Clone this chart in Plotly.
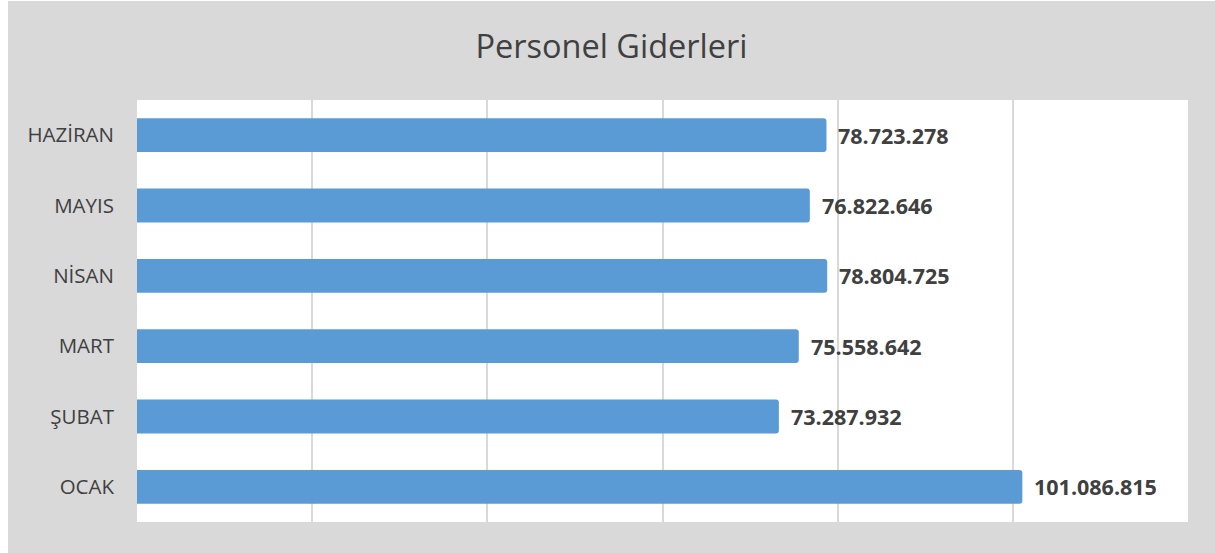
import plotly.graph_objects as go

categories = ["OCAK", "ŞUBAT", "MART", "NİSAN", "MAYIS", "HAZİRAN"]
values = [101086815, 73287932, 75558642, 78804725, 76822646, 78723278]
labels = ["101.086.815", "73.287.932", "75.558.642", "78.804.725", "76.822.646", "78.723.278"]

# page offset of figure (white strip on left/top as in reference)
OX, OY = 8, 1
W, H = 1215 - OX, 553 - OY
L, R, T, B = 137 - OX, 1215 - 1188, 100 - OY, 553 - 522

fig = go.Figure()
fig.add_trace(go.Bar(
    y=categories, x=values, orientation="h",
    marker=dict(color="#5b9bd5", line=dict(width=0), cornerradius=3),
    hoverinfo="skip",
))

for c, v, t in zip(categories, values, labels):
    fig.add_annotation(x=v, y=c, text="<b>%s</b>" % t, showarrow=False,
                       xanchor="left", yanchor="middle", xshift=10,
                       font=dict(family="Open Sans", size=21.5, color="#404040"))

fig.update_layout(
    width=W, height=H,
    margin=dict(l=L, r=R, t=T, b=B),
    paper_bgcolor="#d9d9d9",
    plot_bgcolor="white",
    bargap=0.52,
    showlegend=False,
    title=dict(text="Personel Giderleri", x=0.5, xref="container", xanchor="center",
               y=1 - (47 - OY) / H, yref="container", yanchor="middle",
               font=dict(family="Open Sans", size=32.5, color="#404040")),
    xaxis=dict(range=[0, 120000000], dtick=20000000, showticklabels=False,
               showgrid=True, gridcolor="#d9d9d9", gridwidth=1.5,
               zeroline=False, showline=False, ticks="", fixedrange=True),
    yaxis=dict(showgrid=False, zeroline=False, showline=False, ticks="",
               ticklabelstandoff=22,
               tickfont=dict(family="Open Sans", size=20.5, color="#404040")),
)

fig.write_html(
    "out.html",
    post_script="document.body.style.margin='%dpx 0 0 %dpx';document.body.style.overflow='hidden';document.documentElement.style.overflow='hidden';" % (OY, OX),
)
